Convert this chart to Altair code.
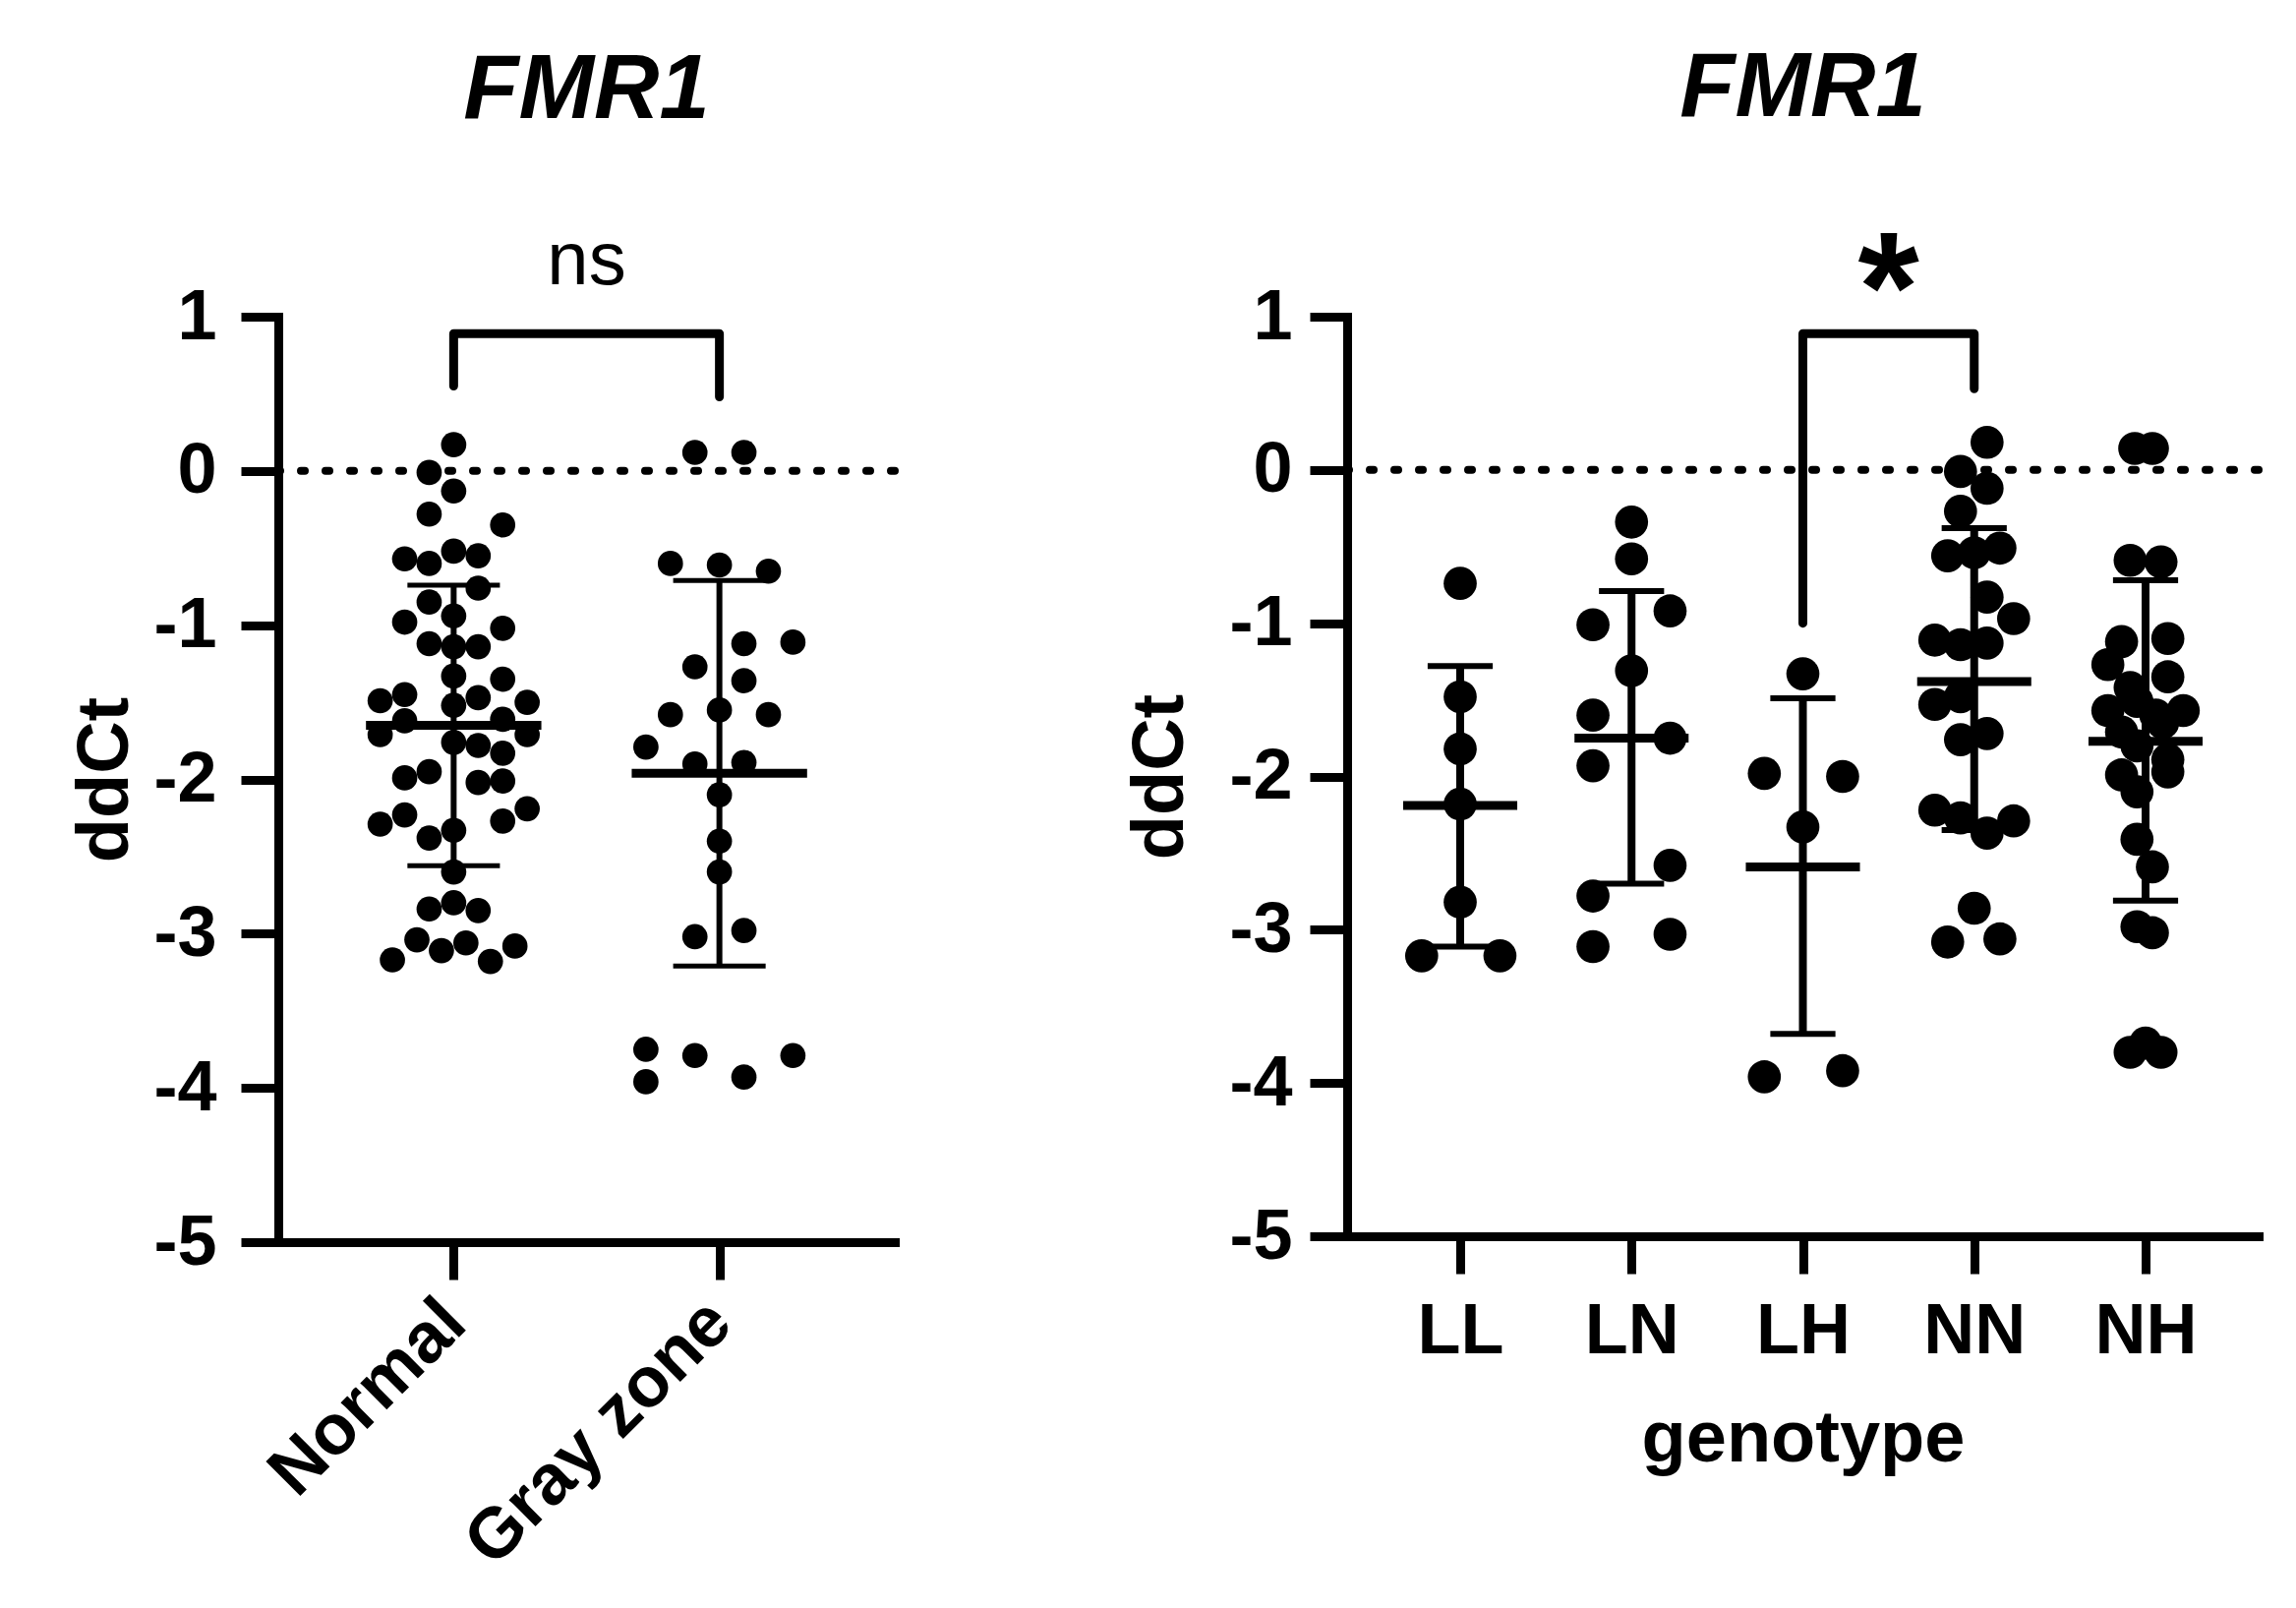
import altair as alt
import pandas as pd

FONT = "Liberation Sans"

# ---------------- left panel: Normal vs Gray zone ----------------
left_groups = ["Normal", "Gray zone"]
normal_values = [0.17, -0.01, -0.13, -0.28, -0.35, -0.57, -0.60, -0.52, -0.55, -0.76,
                 -0.85, -0.94, -0.98, -1.02, -1.12, -1.14, -1.14, -1.33, -1.35, -1.49,
                 -1.45, -1.52, -1.47, -1.50, -1.62, -1.61, -1.71, -1.76, -1.78, -1.83,
                 -1.71, -1.99, -1.95, -2.02, -2.01, -2.29, -2.23, -2.38, -2.33, -2.27,
                 -2.19, -2.60, -2.84, -2.80, -2.85, -3.04, -3.06, -3.11, -3.17, -3.18, -3.08]
normal_cols = [0, -1, 0, -1, 2, -2, -1, 0, 1, 1,
               -1, 0, -2, 2, -1, 0, 1, 0, 2, -3,
               -2, 0, 1, 3, -2, 2, -3, 0, 1, 2,
               3, -2, -1, 1, 2, -3, -2, -1, 0, 2,
               3, 0, -1, 0, 1, -1.5, 0.5, -0.5, -2.5, 1.5, 2.5]
gray_values = [0.12, 0.12, -0.60, -0.61, -0.65, -1.12, -1.11, -1.27, -1.36, -1.58,
               -1.55, -1.58, -1.79, -1.90, -1.89, -2.10, -2.40, -2.60, -3.02, -2.98,
               -3.75, -3.96, -3.79, -3.93, -3.79]
gray_cols = [-1, 1, -2, 0, 2, 1, 3, -1, 1, -2,
             0, 2, -3, -1, 1, 0, 0, 0, -1, 1,
             -3, -3, -1, 1, 3]
left_means = [-1.65, -1.96]
left_sd_upper = [-0.74, -0.71]
left_sd_lower = [-2.56, -3.21]
left_sig = "ns"

# ---------------- right panel: genotypes ----------------
right_groups = ["LL", "LN", "LH", "NN", "NH"]
ll_values = [-0.74, -1.48, -1.82, -2.18, -2.82, -3.17, -3.17]
ll_offsets = [0, 0, 0, 0, 0, -0.225, 0.232]
ln_values = [-0.34, -0.58, -1.01, -0.92, -1.31, -1.60, -1.75, -1.93, -2.58, -2.78, -3.11, -3.03]
ln_offsets = [0, 0, -0.225, 0.225, 0, -0.225, 0.225, -0.225, 0.225, -0.225, -0.225, 0.225]
lh_values = [-1.33, -1.98, -2.00, -2.33, -3.96, -3.92]
lh_offsets = [0, -0.225, 0.232, 0, -0.225, 0.232]
nn_values = [0.18, -0.01, -0.12, -0.27, -0.56, -0.54, -0.51, -0.83, -0.97, -1.11,
             -1.14, -1.13, -1.53, -1.48, -1.76, -1.72, -2.22, -2.27, -2.37, -2.29,
             -2.86, -3.08, -3.06]
nn_offsets = [0.075, -0.08, 0.075, -0.08, -0.155, 0, 0.15, 0.075, 0.23, -0.23,
              -0.08, 0.075, -0.23, -0.08, -0.08, 0.075, -0.23, -0.08, 0.075, 0.23,
              0, -0.155, 0.15]
nh_values = [0.14, 0.14, -0.59, -0.60, -1.10, -1.12, -1.27, -1.35, -1.42, -1.51,
             -1.57, -1.57, -1.60, -1.65, -1.71, -1.80, -1.89, -1.97, -1.99, -2.10,
             -2.41, -2.59, -2.98, -3.02, -3.80, -3.74, -3.80]
nh_offsets = [-0.063, 0.04, -0.09, 0.09, 0.13, -0.14, -0.22, 0.13, -0.09, -0.05,
              -0.22, 0.22, 0.06, 0.10, -0.14, -0.05, 0.13, 0.13, -0.14, -0.05,
              -0.05, 0.04, -0.05, 0.04, -0.09, 0.0, 0.09]
right_means = [-2.19, -1.75, -2.59, -1.38, -1.77]
right_sd_upper = [-1.28, -0.79, -1.49, -0.38, -0.72]
right_sd_lower = [-3.11, -2.70, -3.68, -2.35, -2.81]
right_sig = "*"


def points_frame(groups, value_lists, offset_lists, scale):
    rows = []
    for i, (g, vals, offs) in enumerate(zip(groups, value_lists, offset_lists)):
        for v, o in zip(vals, offs):
            rows.append({"group": g, "pos": i + o * scale, "ddCt": v})
    return pd.DataFrame(rows)


def stats_frame(groups, means, hi, lo):
    return pd.DataFrame({"group": groups, "idx": list(range(len(groups))),
                         "mean": means, "hi": hi, "lo": lo})


def make_panel(pts, stats, groups, bracket, sig, sig_style, width, height,
               dot_size, mean_half, cap_half, mean_w, bar_w, cap_w,
               x_label_angle, x_title, label_pad_y, title_pad_y, label_pad_x,
               title_pad_x, title_offset):
    xdom = [-0.66, len(groups) - 1 + 0.66]
    label_expr = "[" + ",".join("'%s'" % g for g in groups) + "][datum.value]"

    xaxis_kwargs = dict(values=list(range(len(groups))), labelExpr=label_expr,
                        labelAngle=x_label_angle, labelPadding=label_pad_x,
                        tickSize=38, labelLimit=0)
    if x_title:
        xaxis_kwargs.update(title=x_title, titlePadding=title_pad_x)
    else:
        xaxis_kwargs.update(title=None)
    if x_label_angle != 0:
        xaxis_kwargs.update(labelAlign="right", labelBaseline="middle")
    xaxis = alt.Axis(**xaxis_kwargs)
    yaxis = alt.Axis(values=list(range(-5, 2)), tickSize=38,
                     labelExpr="'' + datum.value", labelLimit=0,
                     labelPadding=label_pad_y, title="ddCt",
                     titlePadding=title_pad_y)

    def X(field):
        return alt.X(field, type="quantitative",
                     scale=alt.Scale(domain=xdom, nice=False, zero=False),
                     axis=xaxis)

    def Y(field):
        return alt.Y(field, type="quantitative",
                     scale=alt.Scale(domain=[-5, 1], nice=False, zero=False),
                     axis=yaxis)

    zero_line = alt.Chart(pd.DataFrame({"z": [0]})).mark_rule(
        color="black", strokeWidth=8, strokeDash=[4, 21], strokeCap="round"
    ).encode(y=Y("z"))

    dots = alt.Chart(pts).mark_circle(size=dot_size, color="black", opacity=1).encode(
        x=X("pos"), y=Y("ddCt"))

    st = alt.Chart(stats)
    vbar = st.mark_rule(color="black", strokeWidth=bar_w).encode(
        x=X("idx"), y=Y("lo"), y2="hi:Q")
    cap_hi = st.transform_calculate(
        a="datum.idx - %f" % cap_half, b="datum.idx + %f" % cap_half
    ).mark_rule(color="black", strokeWidth=cap_w).encode(x=X("a"), x2="b:Q", y=Y("hi"))
    cap_lo = st.transform_calculate(
        a="datum.idx - %f" % cap_half, b="datum.idx + %f" % cap_half
    ).mark_rule(color="black", strokeWidth=cap_w).encode(x=X("a"), x2="b:Q", y=Y("lo"))
    mean = st.transform_calculate(
        a="datum.idx - %f" % mean_half, b="datum.idx + %f" % mean_half
    ).mark_rule(color="black", strokeWidth=mean_w).encode(x=X("a"), x2="b:Q", y=Y("mean"))

    br = alt.Chart(bracket).mark_line(
        color="black", strokeWidth=9, strokeCap="round", strokeJoin="round"
    ).encode(x=X("bx"), y=Y("by"), order="o:Q")

    sig_df = pd.DataFrame({"sx": [bracket["bx"].iloc[1] * 0.5 + bracket["bx"].iloc[2] * 0.5],
                           "sy": [sig_style.pop("y")], "t": [sig]})
    sig_text = alt.Chart(sig_df).mark_text(
        font=FONT, color="black", align="center", baseline="alphabetic", **sig_style
    ).encode(x=X("sx"), y=Y("sy"), text="t:N")

    return alt.layer(zero_line, dots, vbar, cap_hi, cap_lo, mean, br, sig_text).properties(
        width=width, height=height,
        title=alt.TitleParams("FMR1", font=FONT, fontSize=92, fontWeight="bold",
                              fontStyle="italic", anchor="middle", frame="group",
                              offset=title_offset, color="black"))


left_pts = points_frame(left_groups, [normal_values, gray_values],
                        [normal_cols, gray_cols], 0.0922)
right_pts = points_frame(right_groups,
                         [ll_values, ln_values, lh_values, nn_values, nh_values],
                         [ll_offsets, ln_offsets, lh_offsets, nn_offsets, nh_offsets], 1.0)
left_stats = stats_frame(left_groups, left_means, left_sd_upper, left_sd_lower)
right_stats = stats_frame(right_groups, right_means, right_sd_upper, right_sd_lower)

left_bracket = pd.DataFrame({"o": [0, 1, 2, 3], "bx": [0, 0, 1, 1],
                             "by": [0.55, 0.89, 0.89, 0.48]})
right_bracket = pd.DataFrame({"o": [0, 1, 2, 3], "bx": [2, 2, 3, 3],
                              "by": [-1.0, 0.89, 0.89, 0.53]})

left = make_panel(left_pts, left_stats, left_groups, left_bracket, left_sig,
                  {"fontSize": 76, "fontWeight": "normal", "y": 1.21},
                  width=627, height=941, dot_size=660, mean_half=0.33, cap_half=0.174,
                  mean_w=9, bar_w=6, cap_w=5, x_label_angle=-45, x_title=None,
                  label_pad_y=25, title_pad_y=10, label_pad_x=32, title_pad_x=10,
                  title_offset=89)
right = make_panel(right_pts, right_stats, right_groups, right_bracket, right_sig,
                   {"fontSize": 160, "fontWeight": "bold", "y": 0.84},
                   width=927, height=935, dot_size=1134, mean_half=0.333, cap_half=0.19,
                   mean_w=9, bar_w=8, cap_w=6, x_label_angle=0, x_title="genotype",
                   label_pad_y=18, title_pad_y=31, label_pad_x=23, title_pad_x=38,
                   title_offset=82)

chart = alt.hconcat(left, right, spacing=229).properties(
    padding={"left": 62, "top": 35, "right": 10, "bottom": 10}
).configure_view(stroke=None).configure_axis(
    grid=False, domainColor="black", domainWidth=9, domainCap="square",
    tickColor="black", tickWidth=9, labelColor="black", labelFont=FONT,
    labelFontSize=72, labelFontWeight="bold", titleColor="black", titleFont=FONT,
    titleFontSize=74, titleFontWeight="bold", labelOverlap=False, labelFlush=False
)

chart.save("out.html", embed_options={"renderer": "svg", "actions": False})
